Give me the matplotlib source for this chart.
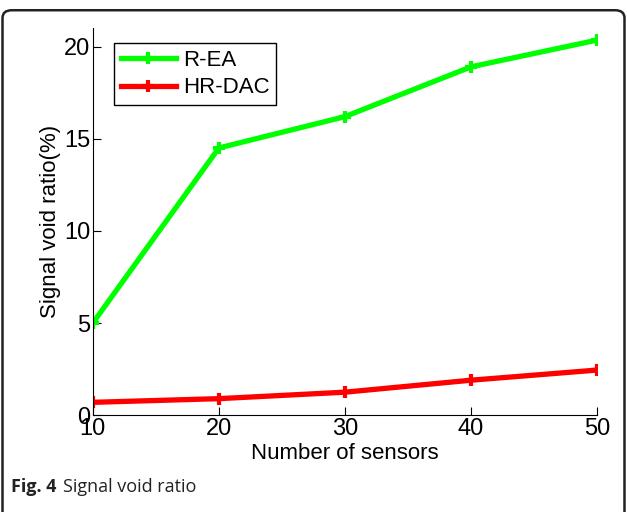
import matplotlib.pyplot as plt
from matplotlib.patches import FancyBboxPatch

sensors = [10, 20, 30, 40, 50]
r_ea = [5.0, 14.5, 16.2, 18.9, 20.35]
hr_dac = [0.7, 0.9, 1.25, 1.9, 2.45]

plt.rcParams['font.family'] = ['Liberation Sans', 'DejaVu Sans']

fig = plt.figure(figsize=(6.27, 5.12), dpi=100)
ax = fig.add_axes([0.148, 0.189, 0.804, 0.756])

ax.plot(sensors, r_ea, color='#00ff00', lw=3.8, marker='+', ms=9, mew=3, label='R-EA')
ax.plot(sensors, hr_dac, color='#ff0000', lw=3.8, marker='+', ms=9, mew=3, label='HR-DAC')

ax.set_xlim(10, 50)
ax.set_ylim(0, 21.0)
ax.set_xticks(sensors)
ax.set_yticks([0, 5, 10, 15, 20])
ax.tick_params(direction='in', labelsize=17, length=6, pad=2)
ax.spines['top'].set_visible(False)
ax.spines['right'].set_visible(False)
ax.set_xlabel('Number of sensors', fontsize=16, labelpad=2)
ax.set_ylabel('Signal void ratio(%)', fontsize=16, labelpad=2)

leg = ax.legend(loc='upper left', bbox_to_anchor=(0.02, 0.99), fontsize=16,
                fancybox=False, edgecolor='black', framealpha=1, handlelength=2.5,
                borderpad=0.3, labelspacing=0.3, handletextpad=0.3)
leg.get_frame().set_linewidth(1.0)

# outer frame of the figure panel
frame = FancyBboxPatch((0.004, -0.05), 0.992, 1.03, boxstyle='round,pad=0,rounding_size=0.015',
                       transform=fig.transFigure, fill=False, edgecolor='#222222', lw=1.8)
fig.patches.append(frame)

fig.text(0.018, 0.04, 'Fig. 4', fontsize=13, fontweight='bold', family='Open Sans', color='#222222')
fig.text(0.1, 0.04, 'Signal void ratio', fontsize=13, family='Open Sans', color='#222222')

fig.savefig('out.png', dpi=100)
